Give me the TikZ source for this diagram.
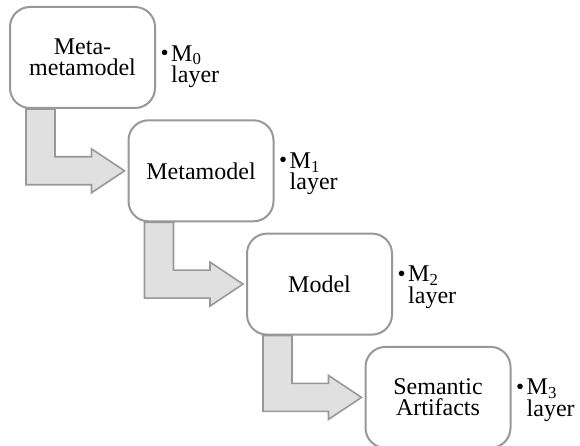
\documentclass[tikz,border=0pt]{standalone}
\usepackage{fontspec}
\setmainfont{Liberation Serif}
\usetikzlibrary{positioning,calc,backgrounds}
\definecolor{boxline}{RGB}{152,152,152}
\definecolor{arrowfill}{RGB}{224,224,224}
% bullet + M_i over "layer"
\newcommand{\mlayer}[1]{\makebox[11pt][l]{\hspace{0.5pt}\raisebox{0.5pt}{\fontsize{23}{23}\selectfont\textbullet}}M\textsubscript{#1}\\\hspace*{11pt}layer}
% bent block arrow from the bottom of one box to the left side of the next
\newcommand{\steparrow}[2]{%
  \draw[levelarrow] let \p1=(#1.south west), \p2=(#2.west) in
    (\x1+17pt,\y1) -- (\x1+46pt,\y1) -- (\x1+46pt,\y2+14pt) -- (\x2-36pt,\y2+14pt)
    -- (\x2-36pt,\y2+22pt) -- (\x2-3pt,\y2) -- (\x2-36pt,\y2-22pt)
    -- (\x2-36pt,\y2-14pt) -- (\x1+17pt,\y2-14pt) -- cycle;}

\begin{document}
\begin{tikzpicture}[
    layerbox/.style={draw=boxline, fill=white, line width=2pt, rounded corners=20pt,
      minimum width=145pt, minimum height=101pt, inner sep=0pt, align=center,
      font=\fontsize{24}{21.5}\selectfont},
    layertext/.style={anchor=west, inner sep=0pt, align=left,
      font=\fontsize{24}{21.5}\selectfont},
    levelarrow/.style={draw=boxline, fill=arrowfill, line width=1.6pt, line join=miter}
  ]
  \useasboundingbox (0,0) rectangle (580pt,-446pt);

  \node[layerbox] (metameta) at (82.5pt,-57.5pt) {Meta-\\metamodel};
  \node[layerbox, below right=10.3pt and -28.5pt of metameta] (metamodel) {Metamodel};
  \node[layerbox, below right=10.3pt and -28.5pt of metamodel] (model) {Model};
  \node[layerbox, below right=10.3pt and -28.5pt of model] (artifacts) {Semantic\\Artifacts};

  \node[layertext, right=4pt of metameta.east, yshift=-9pt] (m0) {\mlayer{0}};
  \node[layertext, right=4pt of metamodel.east, yshift=-3pt] (m1) {\mlayer{1}};
  \node[layertext, right=4pt of model.east, yshift=-3pt] (m2) {\mlayer{2}};
  \node[layertext, right=4pt of artifacts.east, yshift=-3pt] (m3) {\mlayer{3}};

  \begin{scope}[on background layer]
    \steparrow{metameta}{metamodel}
    \steparrow{metamodel}{model}
    \steparrow{model}{artifacts}
  \end{scope}
\end{tikzpicture}
\end{document}
